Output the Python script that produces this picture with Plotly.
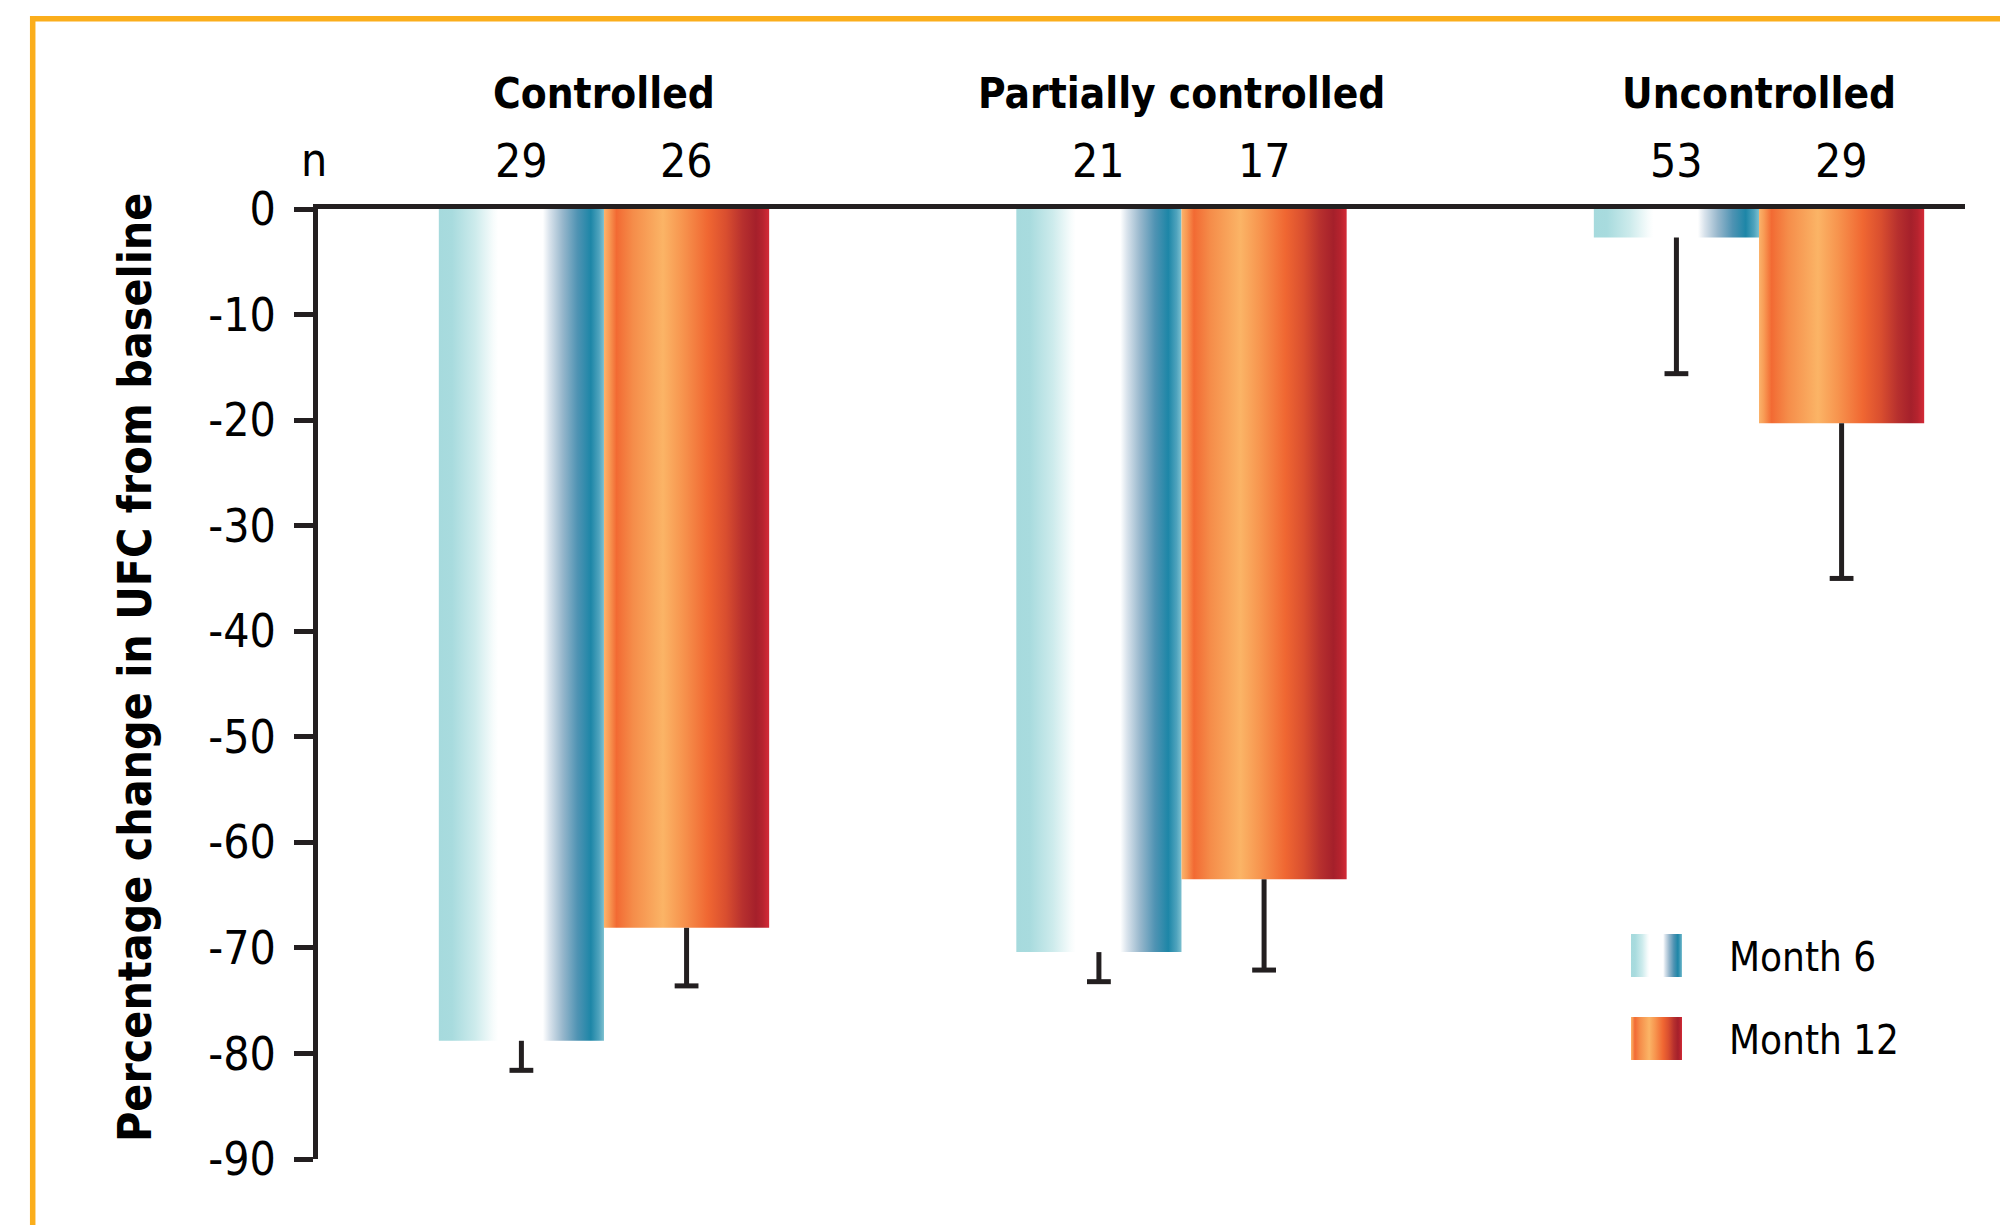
import plotly.graph_objects as go

# ---------------- data ----------------
groups = ["Controlled", "Partially controlled", "Uncontrolled"]
series_names = ["Month 6", "Month 12"]
month6_change = [-78.8, -70.4, -2.7]
month12_change = [-68.1, -63.5, -20.3]
month6_sem = [2.8, 2.8, 12.9]
month12_sem = [5.5, 8.6, 14.7]
month6_n = [29, 21, 53]
month12_n = [26, 17, 29]
y_tick_vals = [0, -10, -20, -30, -40, -50, -60, -70, -80, -90]
y_title = "Percentage change in UFC from baseline"

# ---------------- styles ----------------
FONT = "DejaVu Sans Condensed, Liberation Sans Narrow, sans-serif"
INK = "#231F20"
BORDER = "#FBAE1C"

m6_scale = [
    [0.0, "#A6DADD"], [0.08, "#A8DBDE"], [0.22, "#CDEBEC"], [0.33, "#F7FCFC"],
    [0.36, "#FFFFFF"], [0.63, "#FFFFFF"], [0.67, "#D9E3EC"], [0.75, "#97B7CC"],
    [0.84, "#4F93B3"], [0.92, "#1D86A7"], [0.97, "#4FA3BD"], [1.0, "#7CC0CF"],
]
m12_scale = [
    [0.0, "#FBB36B"], [0.03, "#F89B55"], [0.076, "#F26A33"], [0.177, "#F58D4A"],
    [0.357, "#FBB466"], [0.478, "#F7944E"], [0.628, "#F06732"], [0.739, "#D94E2F"],
    [0.839, "#B7302E"], [0.92, "#A5202B"], [0.96, "#B5232E"], [1.0, "#D42A37"],
]

# ---------------- layout geometry (pixels) ----------------
W, H = 2008, 1225
OFF = 8                      # page offset of the figure (default body margin)
L, R, T, B = 310, 51, 201, 74
PW, PH = W - L - R, H - T - B
X_RANGE = [-0.4952, 2.3567]
Y_RANGE = [-90, 0]
BAR_W = 0.286


def px2x(px):
    return X_RANGE[0] + (px - OFF - L) / PW * (X_RANGE[1] - X_RANGE[0])


def px2y(py):
    return Y_RANGE[1] - (py - OFF - T) / PH * (Y_RANGE[1] - Y_RANGE[0])


def px2paper_x(px):
    return (px - OFF - L) / PW


def px2paper_y(py):
    return 1 - (py - OFF - T) / PH


fig = go.Figure()

series = [
    (series_names[0], month6_change, month6_sem, month6_n, m6_scale, -1),
    (series_names[1], month12_change, month12_sem, month12_n, m12_scale, 0),
]

# bars (gradient filled rectangles on the data axes)
for name, vals, sems, ns, scale, off in series:
    for i, v in enumerate(vals):
        x0 = i + off * BAR_W
        x1 = x0 + BAR_W
        fig.add_trace(go.Scatter(
            x=[x0, x1, x1, x0, x0], y=[0, 0, v, v, 0],
            mode="lines", fill="toself",
            fillgradient=dict(type="horizontal", colorscale=scale),
            line=dict(width=0, color="rgba(0,0,0,0)"),
            name=name, showlegend=False, hoveron="fills",
            text=f"{groups[i]}, {name}: {v}%", hoverinfo="text",
        ))

# error whiskers (one-sided, downward)
for name, vals, sems, ns, scale, off in series:
    xs, ys, cx, cy = [], [], [], []
    for i, (v, e) in enumerate(zip(vals, sems)):
        xc = i + off * BAR_W + BAR_W / 2
        xs += [xc, xc, None]
        ys += [v, v - e, None]
        cx.append(xc)
        cy.append(v - e)
    fig.add_trace(go.Scatter(x=xs, y=ys, mode="lines",
                             line=dict(color=INK, width=5),
                             showlegend=False, hoverinfo="skip"))
    fig.add_trace(go.Scatter(x=cx, y=cy, mode="markers",
                             marker=dict(symbol="line-ew", size=17,
                                         line=dict(color=INK, width=5)),
                             showlegend=False, hoverinfo="skip"))

annotations = []
# group titles
for i, g in enumerate(groups):
    annotations.append(dict(
        x=i, y=px2paper_y(93), xref="x", yref="paper", text=f"<b>{g}</b>",
        showarrow=False, xanchor="center", yanchor="middle",
        font=dict(family=FONT, size=42, color="#000000")))
# n labels
annotations.append(dict(
    x=px2paper_x(314), y=px2paper_y(160), xref="paper", yref="paper", text="n",
    showarrow=False, xanchor="center", yanchor="middle",
    font=dict(family=FONT, size=46, color="#000000")))
for name, vals, sems, ns, scale, off in series:
    for i, n in enumerate(ns):
        annotations.append(dict(
            x=i + off * BAR_W + BAR_W / 2, y=px2paper_y(161), xref="x", yref="paper",
            text=str(n), showarrow=False, xanchor="center", yanchor="middle",
            font=dict(family=FONT, size=46, color="#000000")))
# y title
annotations.append(dict(
    x=px2paper_x(135), y=px2paper_y(668), xref="paper", yref="paper",
    text=f"<b>{y_title}</b>", textangle=-90, showarrow=False,
    xanchor="center", yanchor="middle",
    font=dict(family=FONT, size=46, color="#000000")))

# custom legend (gradient swatches)
legend_rows = [(series_names[0], m6_scale, 934, 977), (series_names[1], m12_scale, 1017, 1060)]
for name, scale, ytop, ybot in legend_rows:
    lx0, lx1 = px2x(1631), px2x(1682)
    ly0, ly1 = px2y(ytop), px2y(ybot)
    fig.add_trace(go.Scatter(
        x=[lx0, lx1, lx1, lx0, lx0], y=[ly0, ly0, ly1, ly1, ly0],
        mode="lines", fill="toself",
        fillgradient=dict(type="horizontal", colorscale=scale),
        line=dict(width=0, color="rgba(0,0,0,0)"),
        showlegend=False, hoverinfo="skip"))
    annotations.append(dict(
        x=px2paper_x(1727), y=px2paper_y((ytop + ybot) / 2 + 1), xref="paper", yref="paper",
        text=name, showarrow=False, xanchor="left", yanchor="middle",
        font=dict(family=FONT, size=40, color="#000000")))

# orange frame
shapes = [
    dict(type="line", xref="paper", yref="paper",
         x0=px2paper_x(30), x1=px2paper_x(W + 20), y0=px2paper_y(18.7), y1=px2paper_y(18.7),
         line=dict(color=BORDER, width=5.5)),
    dict(type="line", xref="paper", yref="paper",
         x0=px2paper_x(32.7), x1=px2paper_x(32.7), y0=px2paper_y(16), y1=px2paper_y(H + 20),
         line=dict(color=BORDER, width=5.5)),
]

fig.update_layout(
    width=W, height=H,
    margin=dict(l=L, r=R, t=T, b=B, pad=0),
    paper_bgcolor="white", plot_bgcolor="white",
    showlegend=False,
    annotations=annotations, shapes=shapes,
    font=dict(family=FONT, color="#000000"),
    xaxis=dict(range=X_RANGE, side="top", showline=True, linecolor=INK, linewidth=5,
               showticklabels=False, ticks="", showgrid=False, zeroline=False,
               fixedrange=True),
    yaxis=dict(range=Y_RANGE, tickvals=y_tick_vals, ticktext=[str(v) for v in y_tick_vals],
               showline=True, linecolor=INK, linewidth=5, ticks="outside",
               ticklen=19, tickwidth=5, tickcolor=INK, showgrid=False, zeroline=False,
               tickfont=dict(family=FONT, size=46, color="#000000"),
               ticklabelstandoff=9, fixedrange=True),
)

fig.write_html("out.html")
